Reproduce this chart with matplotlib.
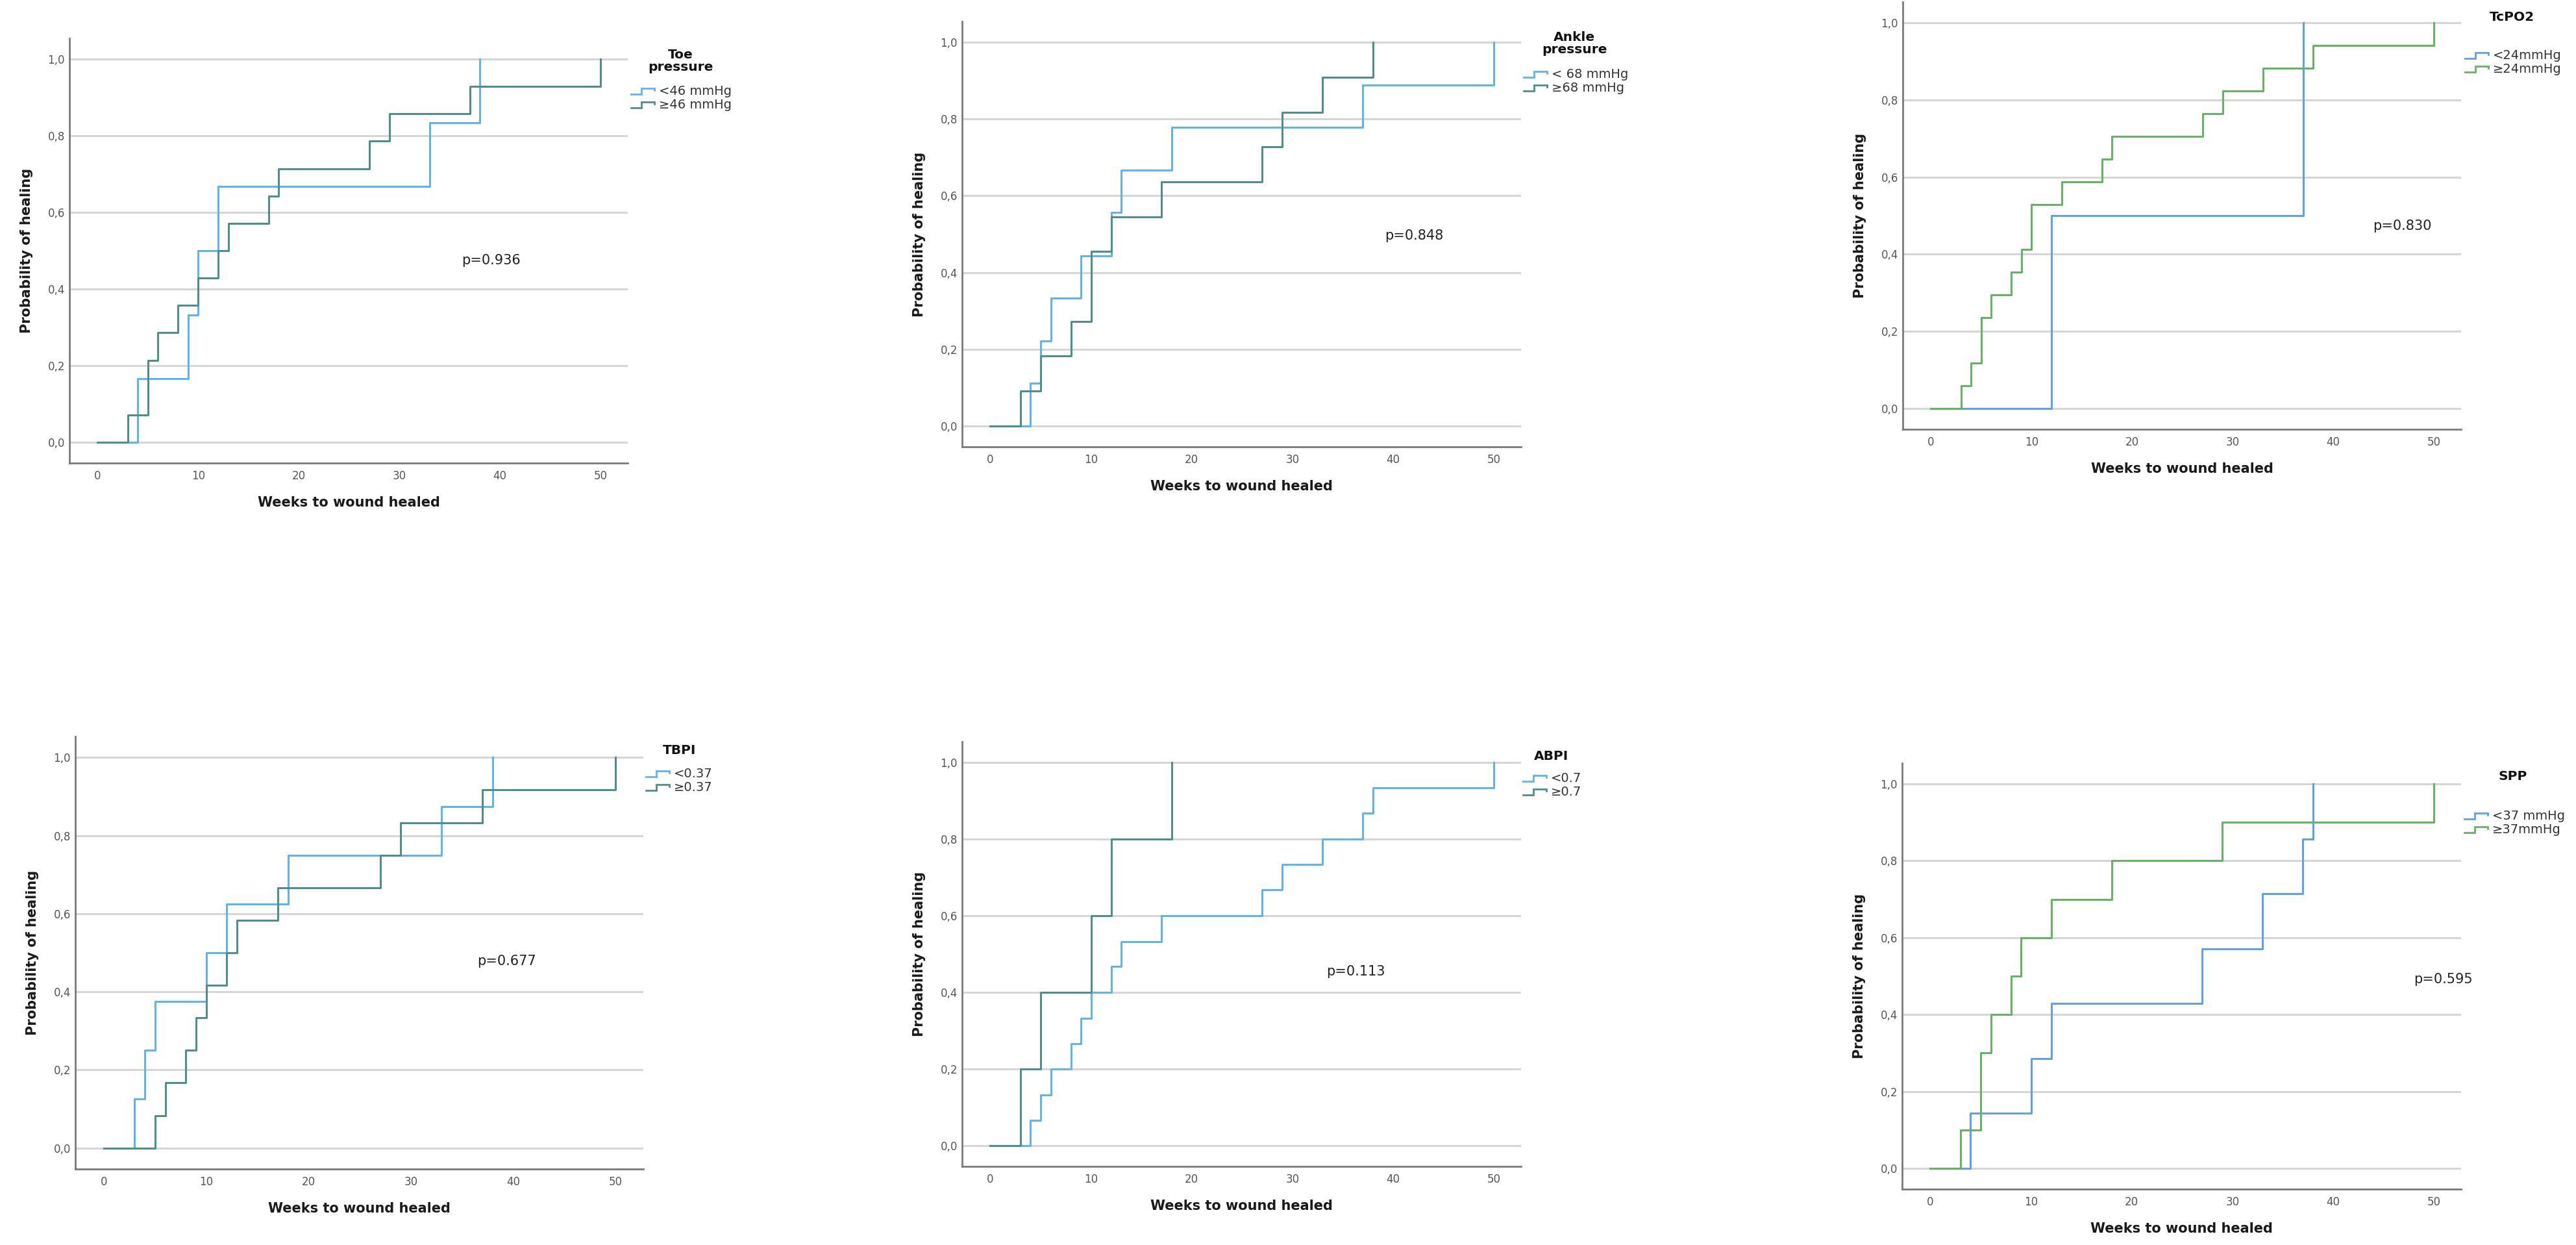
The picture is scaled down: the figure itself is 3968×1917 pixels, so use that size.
import numpy as np
import matplotlib
matplotlib.use("Agg")
import matplotlib.pyplot as plt
from matplotlib.lines import Line2D
from matplotlib.legend_handler import HandlerBase

plt.rcParams['font.family'] = ['DejaVu Sans']

# ---- data (weeks, cumulative prob.) ----
toe_lo_t = [0, 4, 9, 10, 12, 33, 38]
toe_lo_p = [0, 0.167, 0.333, 0.5, 0.667, 0.833, 1.0]
toe_hi_t = [0, 3, 5, 6, 8, 10, 12, 13, 17, 18, 27, 29, 37, 50]
toe_hi_p = [0, 0.071, 0.214, 0.286, 0.357, 0.429, 0.5, 0.571, 0.643, 0.714, 0.786, 0.857, 0.929, 1.0]

ankle_lo_t = [0, 4, 5, 6, 9, 12, 13, 18, 37, 50]
ankle_lo_p = [0, 0.111, 0.222, 0.333, 0.444, 0.556, 0.667, 0.778, 0.889, 1.0]
ankle_hi_t = [0, 3, 5, 8, 10, 12, 17, 27, 29, 33, 38]
ankle_hi_p = [0, 0.091, 0.182, 0.273, 0.455, 0.545, 0.636, 0.727, 0.818, 0.909, 1.0]

tcpo2_lo_t = [0, 12, 37]
tcpo2_lo_p = [0, 0.5, 1.0]
tcpo2_hi_t = [0, 3, 4, 5, 6, 8, 9, 10, 13, 17, 18, 27, 29, 33, 38, 50]
tcpo2_hi_p = [0, 0.059, 0.118, 0.235, 0.294, 0.353, 0.412, 0.529, 0.588, 0.647, 0.706, 0.765, 0.824, 0.882, 0.941, 1.0]

tbpi_lo_t = [0, 3, 4, 5, 10, 12, 18, 33, 38]
tbpi_lo_p = [0, 0.125, 0.25, 0.375, 0.5, 0.625, 0.75, 0.875, 1.0]
tbpi_hi_t = [0, 5, 6, 8, 9, 10, 12, 13, 17, 27, 29, 37, 50]
tbpi_hi_p = [0, 0.083, 0.167, 0.25, 0.333, 0.417, 0.5, 0.583, 0.667, 0.75, 0.833, 0.917, 1.0]

abpi_lo_t = [0, 4, 5, 6, 8, 9, 10, 12, 13, 17, 27, 29, 33, 37, 38, 50]
abpi_lo_p = [0, 0.067, 0.133, 0.2, 0.267, 0.333, 0.4, 0.467, 0.533, 0.6, 0.667, 0.733, 0.8, 0.867, 0.933, 1.0]
abpi_hi_t = [0, 3, 5, 10, 12, 18]
abpi_hi_p = [0, 0.2, 0.4, 0.6, 0.8, 1.0]

spp_lo_t = [0, 4, 10, 12, 27, 33, 37, 38]
spp_lo_p = [0, 0.143, 0.286, 0.429, 0.571, 0.714, 0.857, 1.0]
spp_hi_t = [0, 3, 5, 6, 8, 9, 12, 18, 29, 50]
spp_hi_p = [0, 0.1, 0.3, 0.4, 0.5, 0.6, 0.7, 0.8, 0.9, 1.0]

titles = ["Toe\npressure", "Ankle\npressure", "TcPO2", "TBPI", "ABPI", "SPP"]
group_labels = [
    ["<46 mmHg", "≥46 mmHg"],
    ["< 68 mmHg", "≥68 mmHg"],
    ["<24mmHg", "≥24mmHg"],
    ["<0.37", "≥0.37"],
    ["<0.7", "≥0.7"],
    ["<37 mmHg", "≥37mmHg"],
]
p_values = ["p=0.936", "p=0.848", "p=0.830", "p=0.677", "p=0.113", "p=0.595"]
x_ticks = [0, 10, 20, 30, 40, 50]
y_ticks = [0.0, 0.2, 0.4, 0.6, 0.8, 1.0]

W, H = 3968, 1917

# axes boxes in pixels (left, top, right, bottom)
boxes = [
    (107, 59, 967, 713),
    (1482, 33, 2343, 688),
    (2931, 3, 3791, 661),
    (116, 1134, 991, 1800),
    (1482, 1142, 2343, 1796),
    (2930, 1175, 3791, 1831),
]
# legend: handle start x, centre y of the two entries, title centre
legend_pos = [
    (972, 151, 1048, 94),
    (2347, 125, 2425, 67),
    (3797, 96, 3869, 26),
    (995, 1202, 1047, 1155),
    (2346, 1209, 2390, 1164),
    (3796, 1267, 3871, 1195),
]
# p-value text, data coords (left x, centre y)
p_pos = [(36.2, 0.474), (39.2, 0.496), (43.9, 0.473), (36.5, 0.479), (33.4, 0.455), (48.0, 0.491)]

BLUE = "#62b2ec"
TEAL = "#4f8f89"
BLUE2 = "#619fea"
GREEN = "#66b266"
colors = [(BLUE, TEAL), (BLUE, TEAL), (BLUE2, GREEN), (BLUE, TEAL), (BLUE, TEAL), (BLUE2, GREEN)]

curves = [
    (toe_lo_t, toe_lo_p, toe_hi_t, toe_hi_p),
    (ankle_lo_t, ankle_lo_p, ankle_hi_t, ankle_hi_p),
    (tcpo2_lo_t, tcpo2_lo_p, tcpo2_hi_t, tcpo2_hi_p),
    (tbpi_lo_t, tbpi_lo_p, tbpi_hi_t, tbpi_hi_p),
    (abpi_lo_t, abpi_lo_p, abpi_hi_t, abpi_hi_p),
    (spp_lo_t, spp_lo_p, spp_hi_t, spp_hi_p),
]


class StepHandler(HandlerBase):
    # little step icon like the SPSS legend
    def create_artists(self, legend, orig_handle, xdescent, ydescent, width, height, fontsize, trans):
        y0 = 0.1 * height
        y1 = 0.75 * height
        xs = np.array([0, 0.45 * width, 0.45 * width, width, width]) - xdescent
        ys = np.array([y0, y0, y1, y1, y1 - 0.35 * (y1 - y0)]) - ydescent
        line = Line2D(xs, ys, color=orig_handle.get_color(), lw=2.0, solid_joinstyle='miter')
        line.set_transform(trans)
        return [line]


def fx(px):
    return px / W


def fy(py):
    return 1 - py / H


fig = plt.figure(figsize=(W / 100, H / 100), dpi=100)
fig.patch.set_facecolor("white")

for i in range(6):
    l, t, r, b = boxes[i]
    ax = fig.add_axes([fx(l), fy(b), (r - l) / W, (b - t) / H])
    lo_t, lo_p, hi_t, hi_p = curves[i]
    c_lo, c_hi = colors[i]
    ax.step(lo_t, lo_p, where='post', color=c_lo, lw=2.2, zorder=3)
    ax.step(hi_t, hi_p, where='post', color=c_hi, lw=2.2, zorder=4)

    ax.set_xlim(-2.8, 52.7)
    ax.set_ylim(-0.054, 1.054)
    ax.set_xticks(x_ticks)
    ax.set_yticks(y_ticks)
    ax.set_yticklabels([("%.1f" % v).replace(".", ",") for v in y_ticks])
    ax.tick_params(length=0, labelsize=12, colors="#555555")
    ax.tick_params(axis='y', pad=5)
    ax.tick_params(axis='x', pad=8)
    ax.grid(axis='y', color="#d6d6d6", lw=2.2)
    ax.set_axisbelow(True)
    for s in ["top", "right"]:
        ax.spines[s].set_visible(False)
    for s in ["left", "bottom"]:
        ax.spines[s].set_color("#7a7a7a")
        ax.spines[s].set_linewidth(2)

    ax.set_xlabel("Weeks to wound healed", fontsize=15, fontweight='bold', color="#1a1a1a", va='center')
    ax.set_ylabel("Probability of healing", fontsize=15, fontweight='bold', color="#1a1a1a", va='center')
    ax.xaxis.set_label_coords(0.5, -61 / (b - t))
    ax.yaxis.set_label_coords(-66 / (r - l), 0.5)

    ax.text(p_pos[i][0], p_pos[i][1], p_values[i], fontsize=15, color="#222222", va='center', ha='left')

    # legend
    hx, hy, tx, ty = legend_pos[i]
    handles = [Line2D([], [], color=c_lo), Line2D([], [], color=c_hi)]
    ax.legend(handles, group_labels[i], handler_map={Line2D: StepHandler()},
              loc='center left', bbox_to_anchor=(fx(hx), fy(hy)), bbox_transform=fig.transFigure,
              frameon=False, fontsize=14, borderpad=0, borderaxespad=0,
              handlelength=1.85, handletextpad=0.35, labelspacing=0.1, labelcolor="#333333")
    fig.text(fx(tx), fy(ty), titles[i], fontsize=14.5, fontweight='bold', color="#111111",
             ha='center', va='center', linespacing=1.0)

plt.savefig("out.png", dpi=100)
